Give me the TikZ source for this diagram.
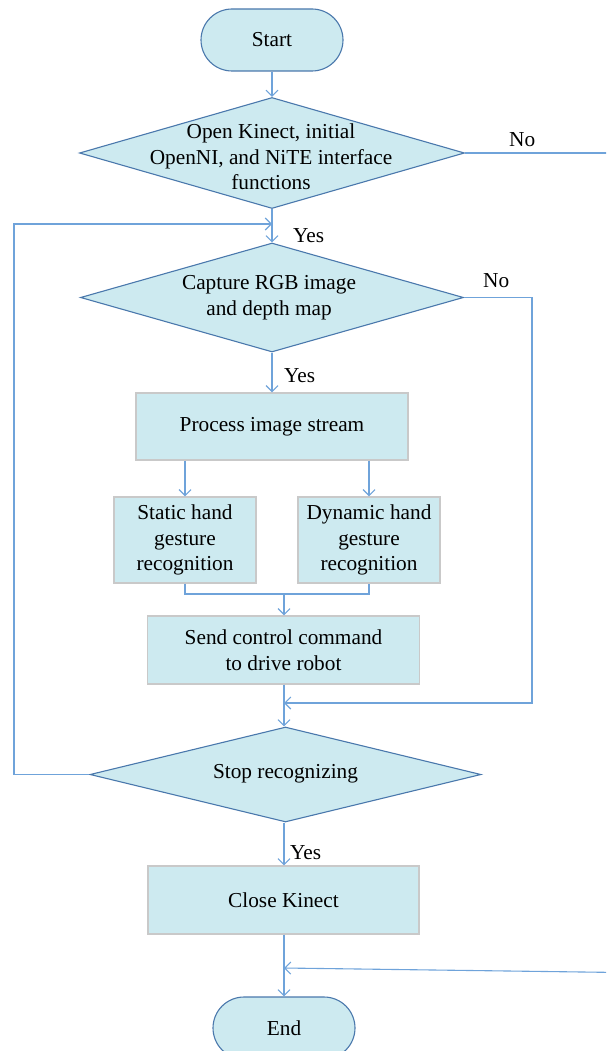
\documentclass[tikz,border=0pt]{standalone}
\usepackage{fontspec}
\setmainfont{Liberation Serif}
\usetikzlibrary{arrows.meta,shapes.geometric,calc}
\definecolor{boxfill}{HTML}{CDEAF0}
\definecolor{darkedge}{HTML}{4A78AC}
\definecolor{arrowcol}{HTML}{6FA3DA}
\definecolor{greyedge}{HTML}{C9C9C9}
\begin{document}
\begin{tikzpicture}[x=1pt,y=-1pt,
  every node/.style={font=\fontsize{21.3}{25.5}\selectfont, text=black},
  term/.style={draw=darkedge, fill=boxfill, line width=1.1pt, rectangle, rounded corners=31pt, minimum width=142pt, minimum height=62pt, inner sep=0pt},
  decis/.style={draw=darkedge, fill=boxfill, line width=1.1pt, diamond, inner sep=0pt},
  procbox/.style={draw=greyedge, fill=boxfill, line width=1.4pt, rectangle, inner sep=0pt, align=center},
  dtext/.style={align=center, inner sep=0pt},
  lbl/.style={anchor=west, inner sep=0pt},
  conn/.style={draw=arrowcol, line width=1.1pt},
  arr/.style={conn, -{Straight Barb[length=6pt,width=12pt,line width=1.1pt]}}
]
\useasboundingbox (0,0) rectangle (606,1051);
\clip (0,0) rectangle (606,1051);

% nodes
\node[term] (start) at (272,40) {Start};
\node[decis, minimum width=385pt, minimum height=111pt] (d1) at (272,153) {};
\node[dtext] (d1t) at (271,157) {Open Kinect, initial\\OpenNI, and NiTE interface\\functions};
\node[decis, minimum width=383pt, minimum height=109pt] (d2) at (272,297.5) {};
\node[dtext] (d2t) at (269,297.5) {Capture RGB image\\and depth map};
\node[procbox, minimum width=272pt, minimum height=67pt] (proc) at (272,426.5) {Process image stream};
\node[procbox, minimum width=142pt, minimum height=86pt] (stat) at (185,540) {Static hand\\gesture\\recognition};
\node[procbox, minimum width=142pt, minimum height=86pt] (dyn) at (369,540) {Dynamic hand\\gesture\\recognition};
\node[procbox, minimum width=272pt, minimum height=68pt] (send) at (283.5,650) {Send control command\\to drive robot};
\node[decis, minimum width=391pt, minimum height=95pt] (d3) at (285.5,774.5) {};
\node[dtext] (d3t) at (285.5,774) {Stop recognizing};
\node[procbox, minimum width=271pt, minimum height=68pt] (close) at (283.5,900) {Close Kinect};
\node[term] (end) at (284,1028) {End};

% labels
\node[lbl] (no1) at (509,140) {No};
\node[lbl] (no2) at (483,281) {No};
\node[lbl] (yes1) at (293,236) {Yes};
\node[lbl] (yes2) at (284,376) {Yes};
\node[lbl] (yes3) at (290,853) {Yes};

% helper coordinates
\coordinate (j1) at (272,224);
\coordinate (lft) at (14,774.5);
\coordinate (r1) at (620,153);
\coordinate (rc) at (532,297.5);
\coordinate (j2) at (284,703);
\coordinate (m1) at (284,594);
\coordinate (r2) at (620,972.5);
\coordinate (j3) at (284,968);

% connectors
\draw[arr] (start.south) -- (d1.north);
\draw[arr] (d1.south) -- (d2.north);
\draw[arr] (d3.west) -- (lft) |- (j1);
\draw[conn] (d1.east) -- (r1);
\draw[arr] (d2.south) -- (proc.north);
\draw[arr] (stat.north |- proc.south) -- (stat.north);
\draw[arr] (dyn.north |- proc.south) -- (dyn.north);
\draw[conn] (stat.south) |- (m1) -| (dyn.south);
\draw[arr] (m1) -- (send.north -| m1);
\draw[arr] (send.south -| j2) -- (d3.north -| j2);
\draw[arr] (d2.east) -- (rc) |- (j2);
\draw[arr] (d3.south -| j3) -- (close.north -| j3);
\draw[arr] (close.south -| j3) -- (end.north -| j3);
\draw[arr] (r2) -- (j3);
\end{tikzpicture}
\end{document}
